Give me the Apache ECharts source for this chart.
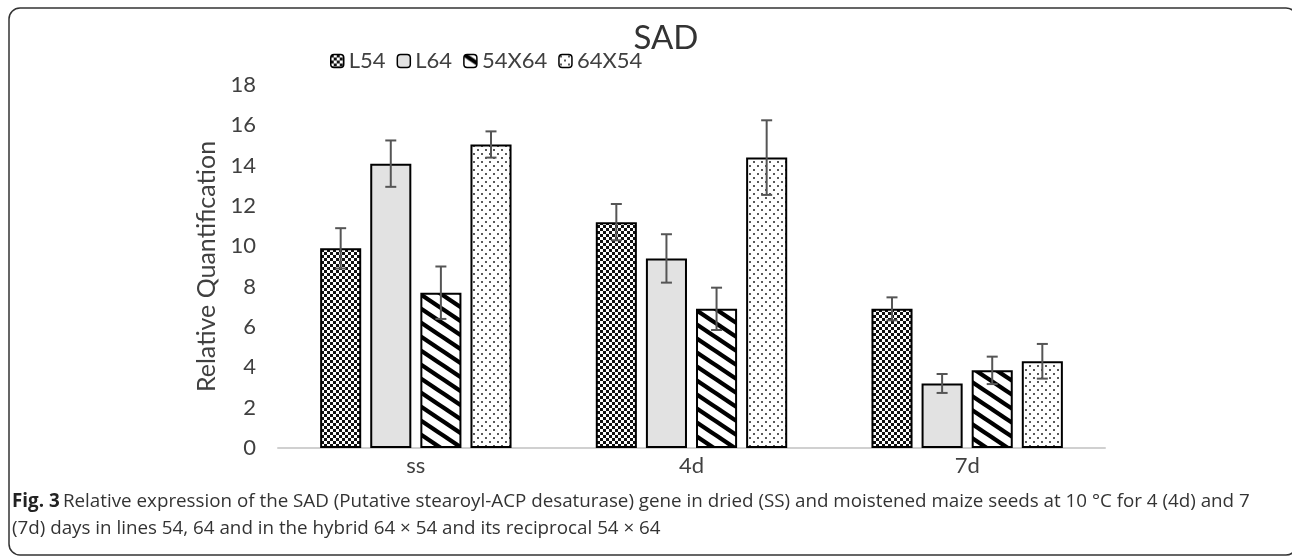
<!DOCTYPE html>
<html>
<head>
<meta charset="utf-8">
<script src="https://cdn.jsdelivr.net/npm/echarts@6/dist/echarts.min.js"></script>
<style>html,body{margin:0;padding:0;background:#fff}#c{width:1292px;height:559px}</style>
</head>
<body>
<div id="c"></div>
<script>
// ---- data ----
const categories = ['ss', '4d', '7d'];
const seriesNames = ['L54', 'L64', '54X64', '64X54'];
const L54 = [9.9, 11.2, 6.9];
const L64 = [14.1, 9.4, 3.2];
const H54x64 = [7.7, 6.9, 3.85];
const H64x54 = [15.05, 14.4, 4.3];
const errL54 = [1.0, 0.9, 0.57];
const errL64 = [1.15, 1.2, 0.47];
const err54x64 = [1.3, 1.05, 0.68];
const err64x54 = [0.65, 1.85, 0.86];
const yTicks = [0, 2, 4, 6, 8, 10, 12, 14, 16, 18];

const values = [L54, L64, H54x64, H64x54];
const errors = [errL54, errL64, err54x64, err64x54];

// ---- patterns ----
function mk(w, h, draw) {
  const c = document.createElement('canvas');
  c.width = w; c.height = h;
  const ctx = c.getContext('2d');
  draw(ctx, w, h);
  return { image: c, repeat: 'repeat' };
}
const checker = mk(6, 6, (ctx) => {
  ctx.fillStyle = '#fff'; ctx.fillRect(0, 0, 6, 6);
  ctx.fillStyle = '#111';
  ctx.fillRect(0, 0, 3, 3); ctx.fillRect(3, 3, 3, 3);
});
const gray = '#e2e2e2';
const stripes = mk(21, 14, (ctx, w, h) => {
  ctx.fillStyle = '#fff'; ctx.fillRect(0, 0, w, h);
  ctx.strokeStyle = '#000'; ctx.lineWidth = 4.3;
  for (let k = -2; k <= 2; k++) {
    ctx.beginPath();
    ctx.moveTo(-w, -h + k * h);
    ctx.lineTo(2 * w, 2 * h + k * h);
    ctx.stroke();
  }
});
const dots = mk(8, 8, (ctx) => {
  ctx.fillStyle = '#fff'; ctx.fillRect(0, 0, 8, 8);
  ctx.fillStyle = '#222';
  ctx.beginPath(); ctx.arc(2, 2, 1.0, 0, Math.PI * 2); ctx.fill();
  ctx.beginPath(); ctx.arc(6, 6, 1.0, 0, Math.PI * 2); ctx.fill();
});
const fills = [checker, gray, stripes, dots];

const BAR_FRAC = 0.149;
const GAP = 0.22;
const FONT = 'Lato';

const series = [];
seriesNames.forEach((n, i) => {
  series.push({
    name: n, type: 'bar', data: values[i],
    barWidth: (BAR_FRAC * 100) + '%', barGap: (GAP * 100) + '%',
    itemStyle: { color: fills[i], borderColor: '#000', borderWidth: 2 },
    z: 2
  });
});
seriesNames.forEach((n, i) => {
  series.push({
    type: 'custom', name: n + ' err', z: 5,
    data: values[i].map((v, k) => [k, v, errors[i][k]]),
    renderItem: function (params, api) {
      const cat = api.value(0), v = api.value(1), e = api.value(2);
      const band = api.size([1, 0])[0];
      const bw = band * BAR_FRAC;
      const off = (i - 1.5) * bw * (1 + GAP);
      const x = api.coord([cat, v])[0] + off;
      const yt = api.coord([cat, v + e])[1];
      const yb = api.coord([cat, v - e])[1];
      const cap = 5.5;
      const st = { stroke: '#555', lineWidth: 2 };
      return { type: 'group', children: [
        { type: 'line', shape: { x1: x, y1: yt, x2: x, y2: yb }, style: st },
        { type: 'line', shape: { x1: x - cap, y1: yt, x2: x + cap, y2: yt }, style: st },
        { type: 'line', shape: { x1: x - cap, y1: yb, x2: x + cap, y2: yb }, style: st }
      ]};
    }
  });
});

const chart = echarts.init(document.getElementById('c'), null, { renderer: 'canvas' });
chart.setOption({
  animation: false,
  backgroundColor: '#fff',
  title: {
    text: 'SAD', left: 661, top: 17, textAlign: 'center',
    textStyle: { fontFamily: FONT, fontSize: 33, fontWeight: 'normal', color: '#333' }
  },
  legend: {
    data: seriesNames, left: 325, top: 45, itemWidth: 13, itemHeight: 13, itemGap: 11,
    textStyle: { fontFamily: FONT, fontSize: 22, color: '#404040' },
    itemStyle: { borderColor: '#000', borderWidth: 1.5 }
  },
  grid: { left: 278, right: 187, top: 85, bottom: 111, containLabel: false },
  xAxis: {
    type: 'category', data: categories,
    axisLine: { lineStyle: { color: '#d0d0d0', width: 2 } },
    axisTick: { show: false },
    axisLabel: { fontFamily: FONT, fontSize: 22, color: '#404040', margin: 7 }
  },
  yAxis: {
    type: 'value', min: yTicks[0], max: yTicks[yTicks.length - 1], interval: 2,
    name: 'Relative Quantification', nameLocation: 'middle', nameGap: 57,
    nameTextStyle: { fontFamily: FONT, fontSize: 25, color: '#404040' },
    axisLine: { show: false }, axisTick: { show: false }, splitLine: { show: false },
    axisLabel: { fontFamily: FONT, fontSize: 22, color: '#404040', margin: 22 }
  },
  series: series,
  graphic: [
    { type: 'rect', shape: { x: 9, y: 8, width: 1288, height: 547, r: 11 },
      style: { fill: 'none', stroke: '#333', lineWidth: 1.5 }, silent: true },
    { type: 'text', left: 12, top: 492,
      style: { rich: { b: { fontWeight: 'bold', fontFamily: 'Open Sans', fontSize: 18.8, fill: '#222' },
                       n: { fontFamily: 'Open Sans', fontSize: 18.8, fill: '#333' } },
               text: '{b|Fig. 3} {n|Relative expression of the SAD (Putative stearoyl-ACP desaturase) gene in dried (SS) and moistened maize seeds at 10 °C for 4 (4d) and 7}' } },
    { type: 'text', left: 12, top: 519,
      style: { fontFamily: 'Open Sans', fontSize: 18.8, fill: '#333',
               text: '(7d) days in lines 54, 64 and in the hybrid 64 × 54 and its reciprocal 54 × 64' } }
  ]
});
</script>
</body>
</html>
